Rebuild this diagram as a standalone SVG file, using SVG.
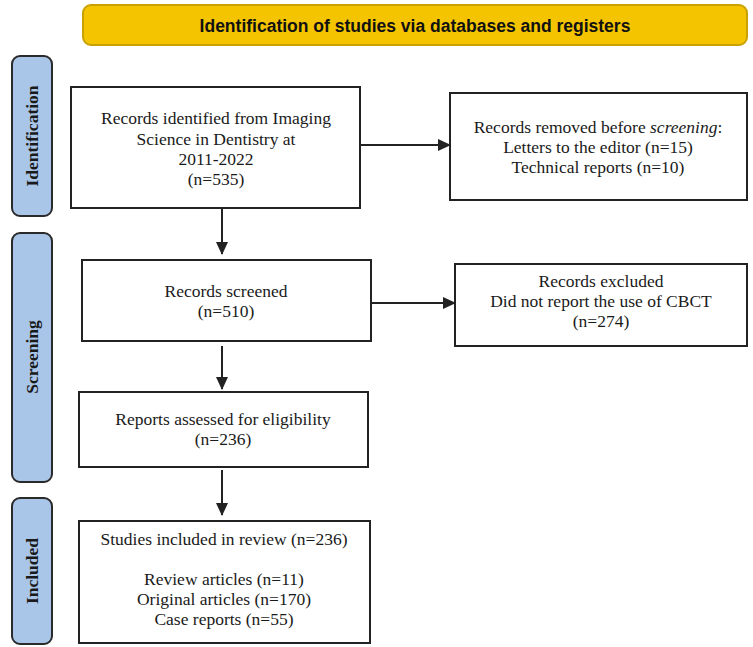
<svg xmlns="http://www.w3.org/2000/svg" width="753" height="647" viewBox="0 0 753 647">
<defs>
<style>
.box{fill:#fff;stroke:#222;stroke-width:2}
.tab{fill:#a9c6e9;stroke:#2a2a2a;stroke-width:2}
.t{font-family:"Liberation Serif","Times New Roman",serif;font-size:17.5px;fill:#1a1a1a;text-anchor:middle}
.tl{font-family:"Liberation Serif","Times New Roman",serif;font-size:17.5px;font-weight:bold;fill:#1a1a1a;text-anchor:middle}
.con{stroke:#222;stroke-width:2;fill:none;marker-end:url(#ah)}
</style>
<marker id="ah" markerWidth="13" markerHeight="12" refX="12" refY="6" orient="auto" markerUnits="userSpaceOnUse" viewBox="0 0 13 12">
<path d="M0,0 L13,6 L0,12 z" fill="#222"/>
</marker>
</defs>
<rect width="753" height="647" fill="#fff"/>
<g id="banner">
<rect x="83" y="5" width="664" height="40" rx="8" fill="#f5c400" stroke="#c9a100" stroke-width="2"/>
<text x="415" y="32" font-family="'Liberation Sans',Arial,sans-serif" font-size="17.5" font-weight="bold" fill="#111" text-anchor="middle">Identification of studies via databases and registers</text>
</g>
<g id="tab-identification">
<rect class="tab" x="12" y="56" width="40" height="160" rx="8"/>
<text class="tl" transform="translate(38,136) rotate(-90)">Identification</text>
</g>
<g id="tab-screening">
<rect class="tab" x="12" y="233" width="40" height="249" rx="8"/>
<text class="tl" transform="translate(38,357) rotate(-90)">Screening</text>
</g>
<g id="tab-included">
<rect class="tab" x="12" y="498" width="40" height="146" rx="8"/>
<text class="tl" transform="translate(38,571) rotate(-90)">Included</text>
</g>
<g id="n-identified">
<rect class="box" x="71" y="87" width="289" height="121"/>
<text class="t" x="216" y="124">Records identified from Imaging</text>
<text class="t" x="216" y="144.5">Science in Dentistry at</text>
<text class="t" x="216" y="165">2011-2022</text>
<text class="t" x="216" y="185">(n=535)</text>
</g>
<g id="n-removed">
<rect class="box" x="450" y="93" width="297" height="107"/>
<text class="t" x="598" y="133">Records removed before <tspan font-style="italic">screening</tspan>:</text>
<text class="t" x="598" y="153">Letters to the editor (n=15)</text>
<text class="t" x="598" y="173">Technical reports (n=10)</text>
</g>
<g id="n-screened">
<rect class="box" x="82" y="260" width="289" height="81"/>
<text class="t" x="226" y="297">Records screened</text>
<text class="t" x="226" y="317">(n=510)</text>
</g>
<g id="n-excluded">
<rect class="box" x="455" y="264" width="292" height="82"/>
<text class="t" x="601" y="287">Records excluded</text>
<text class="t" x="601" y="307">Did not report the use of CBCT</text>
<text class="t" x="601" y="327">(n=274)</text>
</g>
<g id="n-assessed">
<rect class="box" x="79" y="392" width="289" height="75"/>
<text class="t" x="223" y="425">Reports assessed for eligibility</text>
<text class="t" x="223" y="445">(n=236)</text>
</g>
<g id="n-included">
<rect class="box" x="79" y="521" width="291" height="122"/>
<text class="t" x="224" y="545">Studies included in review (n=236)</text>
<text class="t" x="224" y="585">Review articles (n=11)</text>
<text class="t" x="224" y="605">Original articles (n=170)</text>
<text class="t" x="224" y="625">Case reports (n=55)</text>
</g>
<g id="connectors">
<line class="con" x1="360" y1="145" x2="450" y2="145"/>
<line class="con" x1="222" y1="209" x2="222" y2="254"/>
<line class="con" x1="371" y1="303" x2="455" y2="303"/>
<line class="con" x1="222" y1="346" x2="222" y2="389"/>
<line class="con" x1="222" y1="470" x2="222" y2="515"/>
</g>
</svg>
